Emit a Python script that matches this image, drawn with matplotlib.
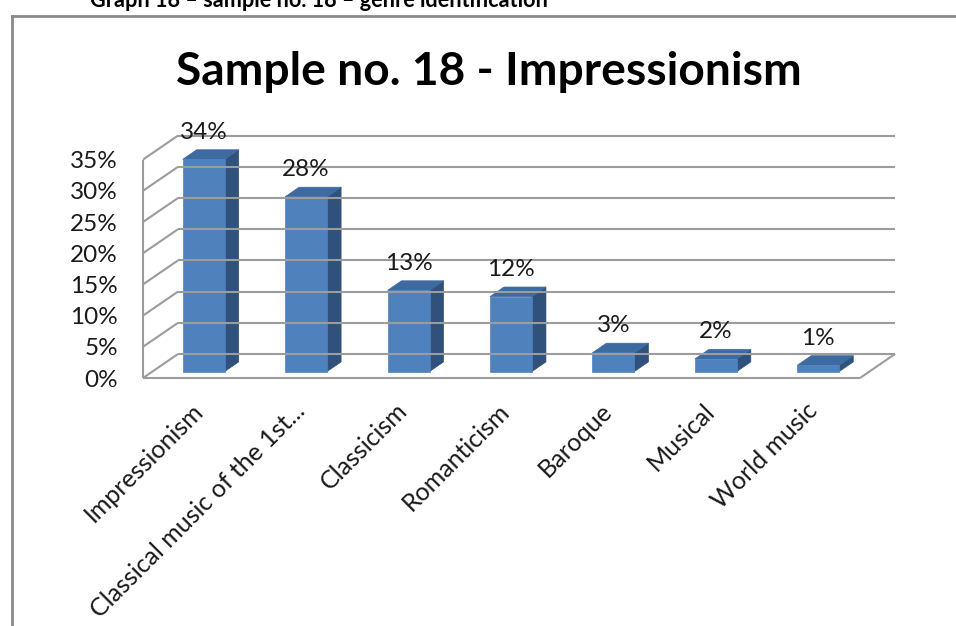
import matplotlib
matplotlib.use("Agg")
import matplotlib.pyplot as plt
from matplotlib.patches import Polygon
from matplotlib.lines import Line2D

# ---- data -------------------------------------------------------------
categories = ["Impressionism", "Classical music of the 1st...", "Classicism",
              "Romanticism", "Baroque", "Musical", "World music"]
shares = [34, 28, 13, 12, 3, 2, 1]          # percent of answers
y_ticks = [0, 5, 10, 15, 20, 25, 30, 35]
title = "Sample no. 18 - Impressionism"
caption = "Graph 18 \u2013 sample no. 18 \u2013 genre identification"

# ---- style ------------------------------------------------------------
plt.rcParams["font.family"] = ["Lato", "DejaVu Sans"]
GRID = "#9c9c9c"
FRONT = "#4f81bd"
TOP = "#3d6aa1"
SIDE = "#30517c"
TXT = "#1a1a1a"

W, H = 956, 626
fig = plt.figure(figsize=(W / 100, H / 100), dpi=100)

# axes = front plane of the 3-D box
left_px, floor_px, right_px = 143, 378, 860
px_per_pct = 6.24
ax = fig.add_axes([left_px / W, (H - floor_px) / H,
                   (right_px - left_px) / W, 35 * px_per_pct / H])
n = len(categories)
ax.set_xlim(-0.5, n - 0.5)
ax.set_ylim(0, 35)
ax.axis("off")

# depth vector of the box, in data units
px_per_cat = (right_px - left_px) / n
Dx, Dy = 35 / px_per_cat, 24 / px_per_pct
x_lo, x_hi = -0.5, n - 0.5


def seg(x0, y0, x1, y1):
    ax.add_line(Line2D([x0, x1], [y0, y1], color=GRID, lw=1.5,
                       clip_on=False, solid_capstyle="butt"))


# back wall gridlines and left wall diagonals
for v in y_ticks:
    seg(x_lo + Dx, v + Dy, x_hi + Dx, v + Dy)
    seg(x_lo, v, x_lo + Dx, v + Dy)
# front vertical axis line and floor outline
seg(x_lo, 0, x_lo, 35)
seg(x_lo, 0, x_hi, 0)
seg(x_hi, 0, x_hi + Dx, Dy)

# ---- 3-D bars ---------------------------------------------------------
f0, f1 = 0.27, 0.67          # front / back of the bars as a fraction of depth
hw = 21 / px_per_cat         # half bar width
ddx, ddy = (f1 - f0) * Dx, (f1 - f0) * Dy
for i, v in enumerate(shares):
    x0, x1 = i - hw + f0 * Dx, i + hw + f0 * Dx
    y0, y1 = f0 * Dy, v + f0 * Dy
    front = [(x0, y0), (x1, y0), (x1, y1), (x0, y1)]
    top = [(x0, y1), (x1, y1), (x1 + ddx, y1 + ddy), (x0 + ddx, y1 + ddy)]
    side = [(x1, y0), (x1 + ddx, y0 + ddy), (x1 + ddx, y1 + ddy), (x1, y1)]
    for pts, col in ((side, SIDE), (top, TOP), (front, FRONT)):
        ax.add_patch(Polygon(pts, closed=True, facecolor=col,
                             edgecolor=col, lw=0.5, clip_on=False))
    ax.annotate(f"{v}%", (i + f0 * Dx, y1), xytext=(0, 19.5),
                textcoords="offset points", ha="center", va="center",
                fontsize=17.5, color=TXT, annotation_clip=False)
    ax.annotate(categories[i], (i, 0), xytext=(-2.5, -15),
                textcoords="offset points", ha="right", va="top",
                rotation=45, rotation_mode="anchor", fontsize=18,
                color=TXT, annotation_clip=False)

# y tick labels
for v in y_ticks:
    ax.annotate(f"{v}%", (x_lo, v), xytext=(-18, -1.5), textcoords="offset points",
                ha="right", va="center", fontsize=17.5, color=TXT,
                annotation_clip=False)

# ---- title, caption and chart border --------------------------------
fig.text(489 / W, (H - 85) / H, title, ha="center", va="baseline",
         fontsize=33.2, fontweight="bold", color="black")
fig.text(90 / W, (H - 7) / H, caption, ha="left", va="baseline",
         fontsize=15.6, fontweight="bold", color="black")
fig.add_artist(Line2D([11.5 / W, 11.5 / W], [0, (H - 15.5) / H],
                      color="#8a8a8a", lw=2, transform=fig.transFigure))
fig.add_artist(Line2D([11.5 / W, 1], [(H - 15.5) / H, (H - 15.5) / H],
                      color="#8a8a8a", lw=2, transform=fig.transFigure))

fig.savefig("out.png", dpi=100, facecolor="white")
